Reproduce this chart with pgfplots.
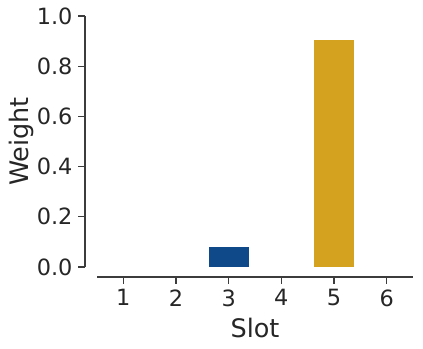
\documentclass[border=0pt]{standalone}
\usepackage{fontspec}
\setmainfont{DejaVu Sans}
\usepackage{pgfplots}
\pgfplotsset{compat=1.18}

\definecolor{txt}{HTML}{262626}
\definecolor{spine}{HTML}{3C3C3C}
\definecolor{barblue}{HTML}{10498A}
\definecolor{bargold}{HTML}{D4A21F}

\begin{document}
\begin{tikzpicture}
\begin{axis}[
    name=ax,
    scale only axis,
    width=316pt, height=251pt,
    xmin=0.5, xmax=6.5,
    ymin=0, ymax=1,
    axis line style={draw=none},
    xtick={1,2,3,4,5,6},
    ytick={0,0.2,0.4,0.6,0.8,1.0},
    yticklabel style={/pgf/number format/fixed, /pgf/number format/fixed zerofill, /pgf/number format/precision=1},
    /pgf/number format/assume math mode=true,
    major tick length=0pt,
    tick label style={font=\fontsize{22.4}{24}\selectfont, text=txt},
    xticklabel style={yshift=-19pt},
    yticklabel style={xshift=-21pt},
    label style={font=\fontsize{25.5}{28}\selectfont, text=txt},
    xlabel={Slot},
    ylabel={Weight},
    xlabel style={yshift=-5pt},
    ylabel style={yshift=-4pt},
    ybar, bar width=0.78, bar shift=0pt,
    clip=false,
]
\addplot[fill=barblue, draw=white, line width=0.4pt] coordinates {(3,0.082)};
\addplot[fill=bargold, draw=white, line width=0.4pt] coordinates {(5,0.906)};
% offset spines
\draw[spine, line width=1.25pt] ([yshift=-10pt]axis cs:0.5,0) -- ([yshift=-10pt]axis cs:6.5,0);
\draw[spine, line width=1.25pt] ([xshift=-12pt]axis cs:0.5,0) -- ([xshift=-12pt]axis cs:0.5,1);
\pgfplotsinvokeforeach{1,2,3,4,5,6}{
    \draw[spine, line width=1.25pt] ([yshift=-10pt]axis cs:#1,0) -- ([yshift=-17pt]axis cs:#1,0);
}
\pgfplotsinvokeforeach{0,0.2,0.4,0.6,0.8,1.0}{
    \draw[spine, line width=1.25pt] ([xshift=-12pt]axis cs:0.5,#1) -- ([xshift=-19pt]axis cs:0.5,#1);
}
\end{axis}
\path[use as bounding box] ([shift={(-97pt,-81pt)}]ax.south west) rectangle ([shift={(10pt,16pt)}]ax.north east);
\end{tikzpicture}
\end{document}
